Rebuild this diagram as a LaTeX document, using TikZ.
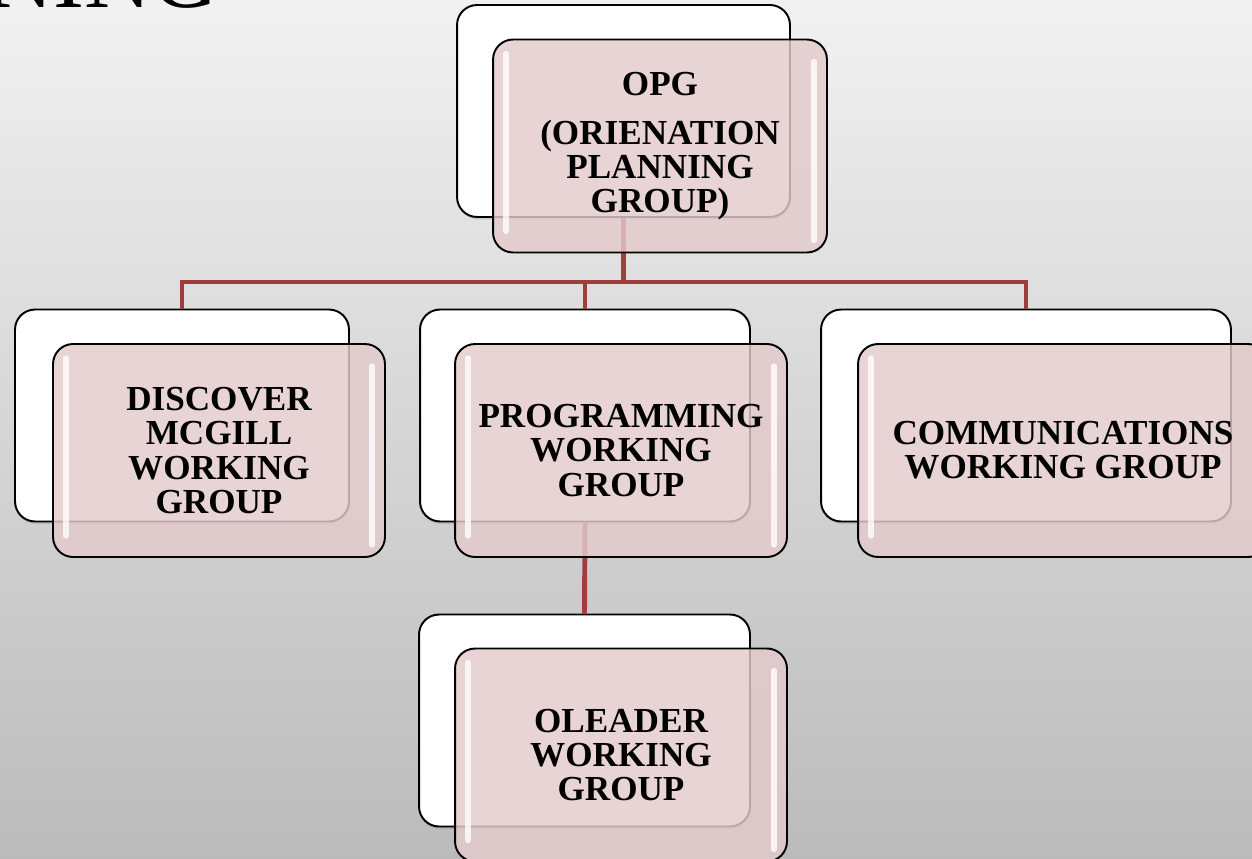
\documentclass[tikz,border=0pt]{standalone}
\usepackage{fontspec}
\setmainfont{Liberation Serif}
\usetikzlibrary{shadows}
\definecolor{bgtop}{RGB}{241,241,241}
\definecolor{bgbot}{RGB}{187,187,187}
\definecolor{pinkfill}{RGB}{228,203,204}
\definecolor{connred}{RGB}{160,62,62}
\tikzset{
  backbox/.style={draw=black, line width=1.1pt, fill=white, rounded corners=0.4cm,
    inner sep=0pt, minimum height=4.24cm,
    drop shadow={shadow xshift=0.5pt, shadow yshift=-1.5pt, opacity=0.25}},
  frontbox/.style={draw=black, line width=1.1pt, fill=pinkfill, fill opacity=0.82,
    text opacity=1, rounded corners=0.4cm, inner sep=0pt, minimum height=4.26cm,
    align=center, font=\bfseries\fontsize{20}{19.4}\selectfont},
  conn/.style={draw=connred, line width=2.8pt},
  hl/.style={draw=white, line width=3pt, line cap=round, opacity=0.8}
}
\begin{document}
\begin{tikzpicture}[x=0.02cm, y=-0.02cm]
\useasboundingbox (0,0) rectangle (1252,859);
\shade[top color=bgtop, bottom color=bgbot] (0,0) rectangle (1252,859);
% partial title
\node[anchor=base west, inner sep=0pt, font=\fontsize{53}{53}\selectfont] (title) at (-14,7) {NING};
% back boxes
\node[backbox, minimum width=6.66cm] (opgw) at (623.5,111) {};
\node[backbox, minimum width=6.68cm] (discw) at (182,415.5) {};
\node[backbox, minimum width=6.60cm] (progw) at (585,415.5) {};
\node[backbox, minimum width=8.20cm] (commw) at (1026,415.5) {};
\node[backbox, minimum width=6.62cm] (olw) at (584.5,720.5) {};
% connectors
\coordinate (bus) at (0,282);
\draw[conn] (opgw.south) -- (opgw.south |- bus);
\draw[conn] (discw.north) |- (commw.north |- bus) -- (commw.north);
\draw[conn] (progw.north) -- (progw.north |- bus);
\draw[conn] (progw.south) -- (olw.north);
% front boxes
\node[frontbox, minimum width=6.68cm] (opg) at (660,146) {OPG\\[0.29cm](ORIENATION\\PLANNING\\GROUP)};
\node[frontbox, minimum width=6.64cm] (disc) at (219,450.5) {DISCOVER\\MCGILL\\WORKING\\GROUP};
\node[frontbox, minimum width=6.64cm] (prog) at (621,450.5) {PROGRAMMING\\WORKING\\GROUP};
\node[frontbox, minimum width=8.20cm] (comm) at (1063,450.5) {COMMUNICATIONS\\WORKING GROUP};
\node[frontbox, minimum width=6.64cm] (ol) at (621,755) {OLEADER\\WORKING\\GROUP};
% glossy highlights
\foreach \n in {opg,disc,prog,comm,ol}{
  \draw[hl] ([xshift=0.28cm, yshift=-0.30cm]\n.north west) -- ([xshift=0.28cm, yshift=0.44cm]\n.south west);
  \draw[hl] ([xshift=-0.28cm, yshift=-0.46cm]\n.north east) -- ([xshift=-0.28cm, yshift=0.26cm]\n.south east);
}
\end{tikzpicture}
\end{document}
